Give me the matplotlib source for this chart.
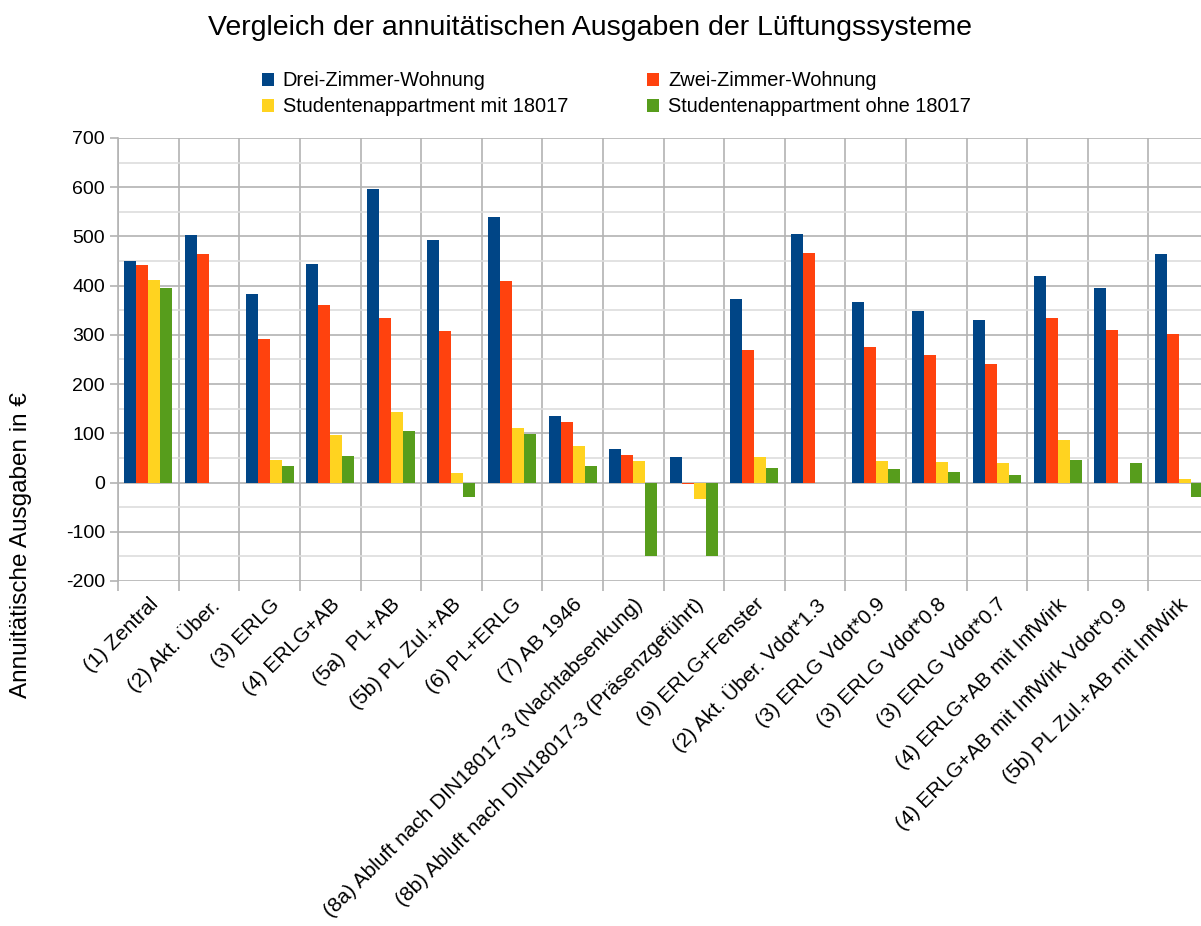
import numpy as np
import matplotlib.pyplot as plt
from matplotlib.ticker import MultipleLocator

plt.rcParams['font.family'] = ['Liberation Sans', 'DejaVu Sans']
plt.rcParams['axes.unicode_minus'] = False

categories = [
    "(1) Zentral", "(2) Akt. Über.", "(3) ERLG", "(4) ERLG+AB", "(5a)  PL+AB",
    "(5b) PL Zul.+AB", "(6) PL+ERLG", "(7) AB 1946",
    "(8a) Abluft nach DIN18017-3 (Nachtabsenkung)",
    "(8b) Abluft nach DIN18017-3 (Präsenzgeführt)",
    "(9) ERLG+Fenster", "(2) Akt. Über. Vdot*1.3", "(3) ERLG Vdot*0.9",
    "(3) ERLG Vdot*0.8", "(3) ERLG Vdot*0.7", "(4) ERLG+AB mit InfWirk",
    "(4) ERLG+AB mit InfWirk Vdot*0.9", "(5b) PL Zul.+AB mit InfWirk",
]

drei_zimmer = [450, 502, 383, 444, 597, 492, 540, 136, 68, 51, 373, 505, 366, 349, 331, 420, 395, 465]
zwei_zimmer = [442, 464, 292, 360, 335, 308, 409, 122, 55, -2, 270, 466, 276, 259, 240, 335, 309, 301]
student_mit = [411, np.nan, 45, 97, 143, 19, 110, 74, 44, -33, 52, np.nan, 43, 42, 40, 87, np.nan, 7]
student_ohne = [396, np.nan, 33, 54, 104, -30, 98, 34, -150, -150, 29, np.nan, 28, 21, 15, 45, 40, -30]

series = [
    ("Drei-Zimmer-Wohnung", drei_zimmer, "#004586"),
    ("Zwei-Zimmer-Wohnung", zwei_zimmer, "#ff420e"),
    ("Studentenappartment mit 18017", student_mit, "#ffd320"),
    ("Studentenappartment ohne 18017", student_ohne, "#579d1c"),
]

fig = plt.figure(figsize=(12.01, 9.26), dpi=100)
ax = fig.add_axes([0.0983, 0.3726, 0.9084, 0.4784])

x = np.arange(len(categories))
width = 0.198
bars = []
for i, (name, vals, color) in enumerate(series):
    b = ax.bar(x - 1.5 * width + i * width, vals, width, color=color, label=name, zorder=3)
    bars.append(b)

ax.set_xlim(-0.5, len(categories) - 0.5)
ax.set_ylim(-200, 700)
ax.yaxis.set_major_locator(MultipleLocator(100))
ax.yaxis.set_minor_locator(MultipleLocator(50))
ax.set_xticks(x)
ax.set_xticks(np.arange(-0.5, len(categories), 1.0), minor=True)
ax.set_xticklabels(categories, rotation=45, ha='right', rotation_mode='anchor', fontsize=15)
ax.tick_params(axis='x', which='major', length=0, pad=10)
ax.tick_params(axis='x', which='minor', length=7, color='#b3b3b3', width=1.2)
ax.tick_params(axis='y', which='major', length=6, color='#b3b3b3', width=1.2, labelsize=14)
ax.tick_params(axis='y', which='minor', length=0)

ax.grid(axis='y', which='major', color='#b3b3b3', linewidth=1.2, zorder=0)
ax.grid(axis='y', which='minor', color='#dddddd', linewidth=1.2, zorder=0)
ax.grid(axis='x', which='minor', color='#b3b3b3', linewidth=1.2, zorder=0)
for side in ['top', 'right', 'bottom']:
    ax.spines[side].set_visible(False)
ax.spines['left'].set_color('#b3b3b3')
ax.spines['left'].set_linewidth(1.2)

fig.text(0.491, 0.970, "Vergleich der annuitätischen Ausgaben der Lüftungssysteme",
         ha='center', va='center', fontsize=20.5)
fig.text(0.0175, 0.411, "Annuitätische Ausgaben in €", rotation=90,
         ha='center', va='center', fontsize=17.5)

# row-major legend order: Drei, Zwei / mit, ohne
order = [0, 2, 1, 3]
fig.legend([bars[i] for i in order], [series[i][0] for i in order],
           loc='upper left', bbox_to_anchor=(0.218, 0.923), ncol=2, frameon=False,
           fontsize=14.4, handlelength=0.6, handleheight=0.6, handletextpad=0.45,
           columnspacing=3.95, labelspacing=0.35, borderaxespad=0, borderpad=0)

fig.savefig("out.png", dpi=100)
